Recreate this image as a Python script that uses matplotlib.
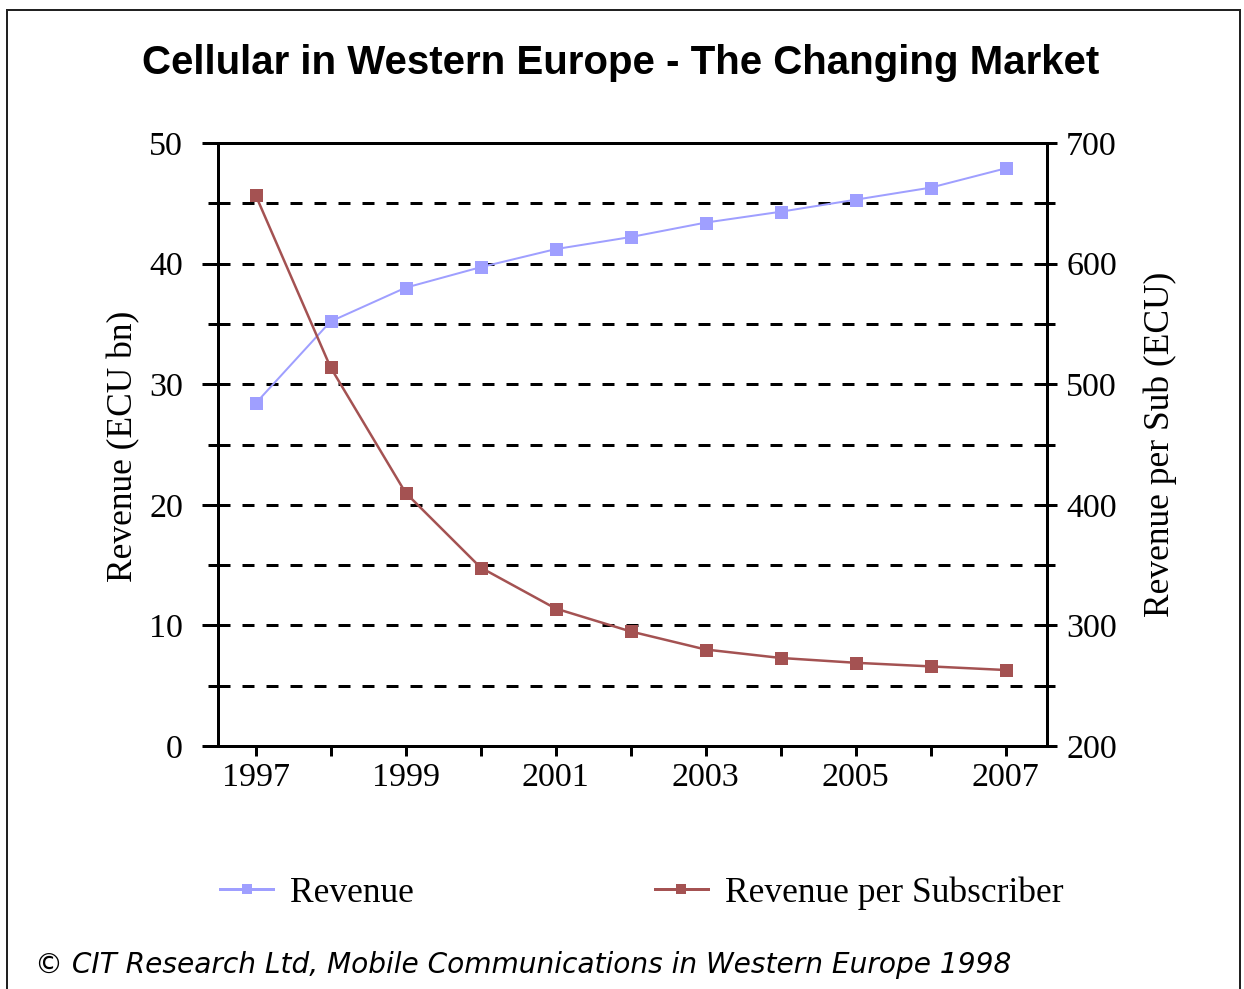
import matplotlib
matplotlib.use("Agg")
import matplotlib.pyplot as plt
from matplotlib.lines import Line2D
from matplotlib.ticker import MultipleLocator, FixedLocator

years = [1997, 1998, 1999, 2000, 2001, 2002, 2003, 2004, 2005, 2006, 2007]
revenue = [28.4, 35.2, 38.0, 39.7, 41.2, 42.2, 43.4, 44.3, 45.3, 46.3, 47.9]
rev_per_sub = [657, 514, 410, 348, 314, 295, 280, 273, 269, 266, 263]
xtick_years = [1997, 1999, 2001, 2003, 2005, 2007]

title = "Cellular in Western Europe - The Changing Market"
ylabel_left = "Revenue (ECU bn)"
ylabel_right = "Revenue per Sub (ECU)"
series_names = ["Revenue", "Revenue per Subscriber"]
footnote = "\u00a9 CIT Research Ltd, Mobile Communications in Western Europe 1998"

W, H = 1244, 989
fig = plt.figure(figsize=(W / 100, H / 100), dpi=100)
fig.patch.set_facecolor("white")

def fx(px):
    return px / W

def fy(py):
    return 1 - py / H

PT = 0.72  # points per pixel at dpi 100
blue = "#9F9FFF"
red = "#A45252"
serif = "Liberation Serif"

left, right, top, bottom = 218, 1047, 143, 746
ax = fig.add_axes([fx(left), fy(bottom), fx(right - left), (bottom - top) / H])
ax2 = ax.twinx()

ax.set_xlim(1996.5, 2007.55)
ax.set_ylim(0, 50)
ax2.set_ylim(200, 700)

grid_lw = 3 * PT
dash = (0, (12 * PT / grid_lw, 12 * PT / grid_lw))
ax.yaxis.set_major_locator(MultipleLocator(10))
ax.yaxis.set_minor_locator(MultipleLocator(5))
ax.grid(True, which="both", axis="y", color="black", lw=grid_lw, linestyle=dash)
ax.grid(False, axis="x")
ax.set_axisbelow(True)

ax.xaxis.set_major_locator(FixedLocator(xtick_years))
ax.xaxis.set_minor_locator(FixedLocator(years))
ax2.yaxis.set_major_locator(MultipleLocator(100))
ax2.yaxis.set_minor_locator(MultipleLocator(50))

for a in (ax, ax2):
    for s in a.spines.values():
        s.set_linewidth(3 * PT)
        s.set_color("black")

ax.tick_params(axis="y", which="major", direction="out", length=16 * PT, width=3 * PT,
               pad=19 * PT, labelsize=24.5)
ax.tick_params(axis="y", which="minor", direction="out", length=10 * PT, width=3 * PT)
ax.tick_params(axis="x", which="both", direction="out", length=10 * PT, width=3 * PT,
               pad=6 * PT, labelsize=24.5)
ax2.tick_params(axis="y", which="major", direction="out", length=10 * PT, width=3 * PT,
                pad=9 * PT, labelsize=24.5)
ax2.tick_params(axis="y", which="minor", direction="out", length=8 * PT, width=3 * PT)

for lab in ax.get_xticklabels() + ax.get_yticklabels() + ax2.get_yticklabels():
    lab.set_fontfamily(serif)

l1, = ax.plot(years, revenue, color=blue, lw=2 * PT, marker="s", markersize=13 * PT,
              markeredgewidth=0, label=series_names[0], zorder=3)
l2, = ax2.plot(years, rev_per_sub, color=red, lw=2.5 * PT, marker="s", markersize=13 * PT,
               markeredgewidth=0, label=series_names[1], zorder=3)

fig.text(fx(621), fy(63), title, ha="center", va="center", fontsize=29,
         fontweight="bold", family="Liberation Sans")
fig.text(fx(124), fy(446), ylabel_left, rotation=90, ha="center", va="center",
         fontsize=25.5, family=serif)
fig.text(fx(1160), fy(444), ylabel_right, rotation=90, ha="center", va="center",
         fontsize=25.5, family=serif)

h1 = Line2D([], [], color=blue, lw=3 * PT, marker="s", markersize=10 * PT, markeredgewidth=0)
h2 = Line2D([], [], color=red, lw=3 * PT, marker="s", markersize=10 * PT, markeredgewidth=0)
em = 25.5 / PT
fig.legend([h1, h2], series_names, loc="center left",
           bbox_to_anchor=(fx(220), fy(893)), ncol=2, frameon=False,
           prop={"family": serif, "size": 25.5}, borderpad=0, borderaxespad=0,
           handlelength=53 / em, handletextpad=17 / em, columnspacing=241 / em,
           handleheight=0.7)

fig.text(fx(35), fy(965), footnote, ha="left", va="center", fontsize=20.2,
         style="italic", family="DejaVu Sans")

# outer border
for xs, ys in [((7, 7), (10, H + 5)), ((7, 1240), (10, 10)), ((1240, 1240), (10, H + 5))]:
    fig.add_artist(Line2D([fx(x) for x in xs], [fy(y) for y in ys], color="#222222",
                          lw=2 * PT, transform=fig.transFigure))

fig.savefig("out.png", dpi=100, facecolor="white")
